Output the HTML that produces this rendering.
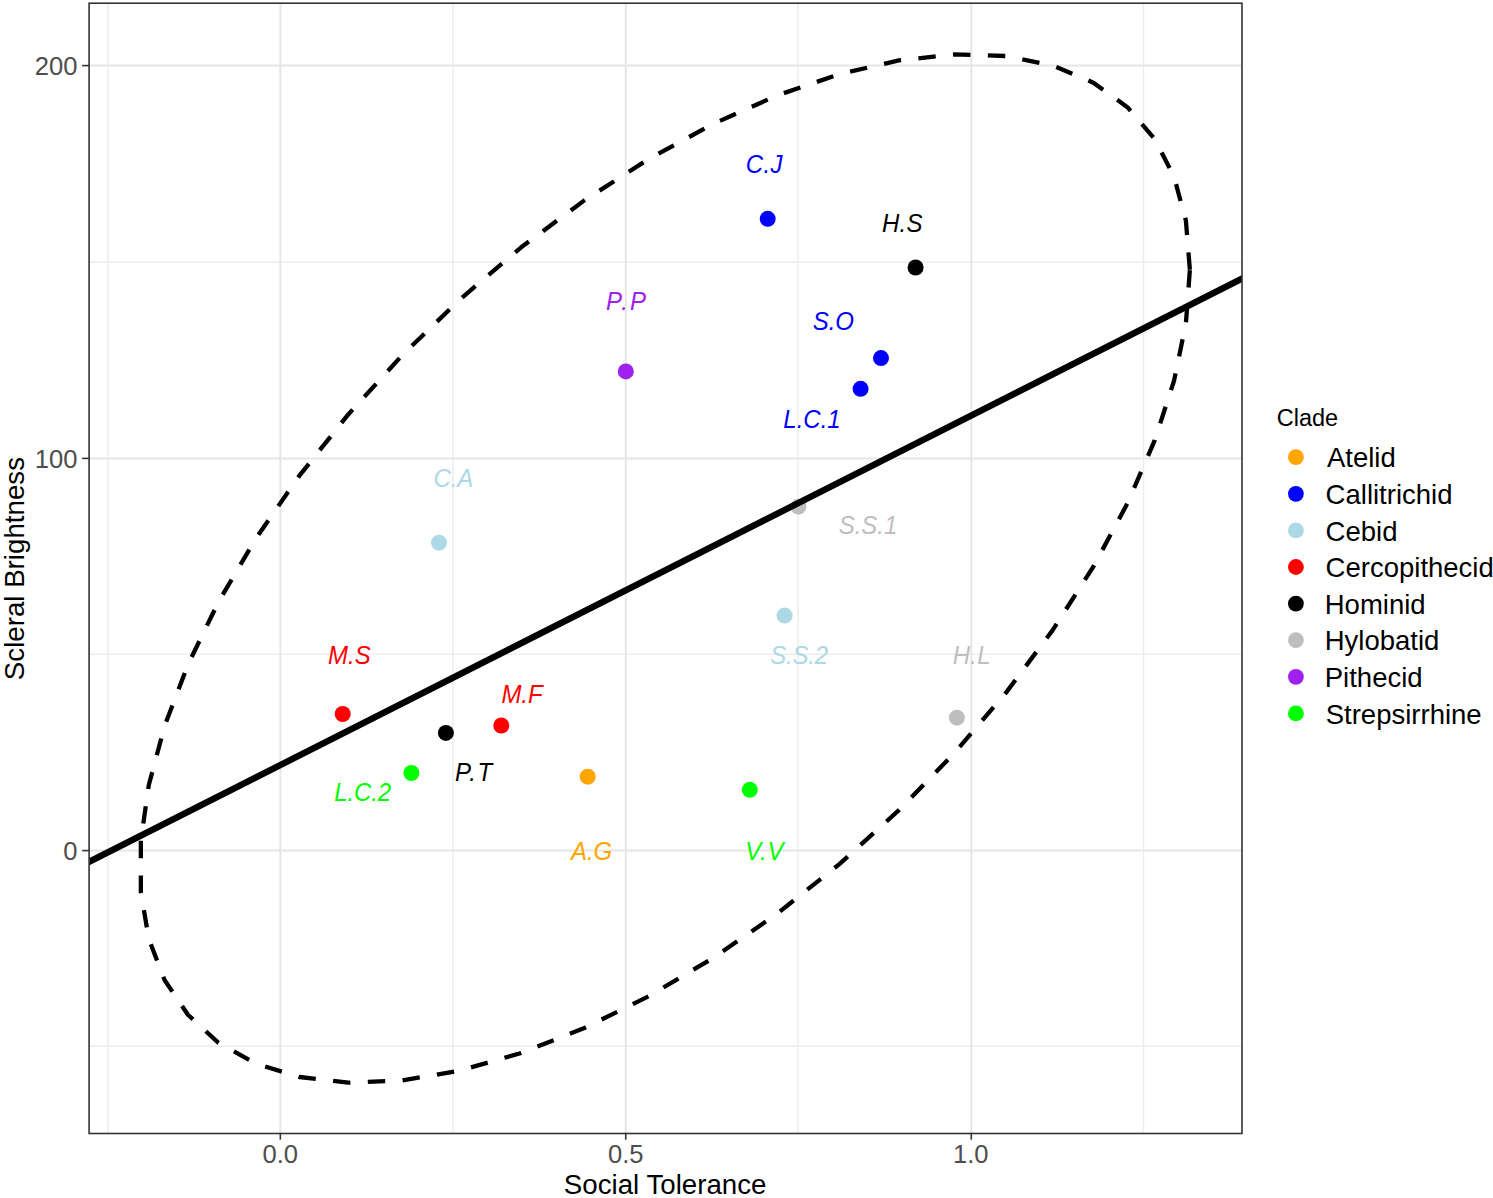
<!DOCTYPE html>
<html><head><meta charset="utf-8"><style>
html,body{margin:0;padding:0;background:#fff;}
body{width:1493px;height:1198px;overflow:hidden;}
svg{display:block;}
text{font-family:"Liberation Sans",sans-serif;}

</style></head><body>
<svg width="1493" height="1198" viewBox="0 0 1493 1198">
<rect x="0" y="0" width="1493" height="1198" fill="#fff"/>
<defs><clipPath id="pc"><rect x="89.1" y="3.2" width="1152.90" height="1130.30"/></clipPath></defs>
<line x1="107.95" y1="3.2" x2="107.95" y2="1133.5" stroke="#EDEDED" stroke-width="1.5"/>
<line x1="453.00" y1="3.2" x2="453.00" y2="1133.5" stroke="#EDEDED" stroke-width="1.5"/>
<line x1="798.00" y1="3.2" x2="798.00" y2="1133.5" stroke="#EDEDED" stroke-width="1.5"/>
<line x1="1143.50" y1="3.2" x2="1143.50" y2="1133.5" stroke="#EDEDED" stroke-width="1.5"/>
<line x1="89.1" y1="262.00" x2="1242.0" y2="262.00" stroke="#EDEDED" stroke-width="1.5"/>
<line x1="89.1" y1="654.30" x2="1242.0" y2="654.30" stroke="#EDEDED" stroke-width="1.5"/>
<line x1="89.1" y1="1046.00" x2="1242.0" y2="1046.00" stroke="#EDEDED" stroke-width="1.5"/>
<line x1="280.35" y1="3.2" x2="280.35" y2="1133.5" stroke="#E6E6E6" stroke-width="2.0"/>
<line x1="625.75" y1="3.2" x2="625.75" y2="1133.5" stroke="#E6E6E6" stroke-width="2.0"/>
<line x1="971.27" y1="3.2" x2="971.27" y2="1133.5" stroke="#E6E6E6" stroke-width="2.0"/>
<line x1="89.1" y1="850.60" x2="1242.0" y2="850.60" stroke="#E6E6E6" stroke-width="2.0"/>
<line x1="89.1" y1="458.40" x2="1242.0" y2="458.40" stroke="#E6E6E6" stroke-width="2.0"/>
<line x1="89.1" y1="65.60" x2="1242.0" y2="65.60" stroke="#E6E6E6" stroke-width="2.0"/>
<g clip-path="url(#pc)"><circle cx="767.7" cy="218.8" r="8.0" fill="#0000FF"/><circle cx="915.6" cy="267.5" r="8.0" fill="#000000"/><circle cx="625.8" cy="371.4" r="8.0" fill="#A020F0"/><circle cx="881" cy="358.1" r="8.0" fill="#0000FF"/><circle cx="860.6" cy="388.8" r="8.0" fill="#0000FF"/><circle cx="439" cy="542.7" r="8.0" fill="#ADD8E6"/><circle cx="798.4" cy="506.7" r="8.0" fill="#BEBEBE"/><circle cx="784.6" cy="615.6" r="8.0" fill="#ADD8E6"/><circle cx="956.9" cy="717.7" r="8.0" fill="#BEBEBE"/><circle cx="342.7" cy="714" r="8.0" fill="#FF0000"/><circle cx="501.3" cy="725.5" r="8.0" fill="#FF0000"/><circle cx="445.9" cy="732.9" r="8.0" fill="#000000"/><circle cx="411.4" cy="773" r="8.0" fill="#00FF00"/><circle cx="587.7" cy="776.7" r="8.0" fill="#FFA500"/><circle cx="749.8" cy="789.8" r="8.0" fill="#00FF00"/><path d="M1189.87,269.76 L1185.89,220.55 L1174.01,176.63 L1154.41,138.63 L1127.40,107.16 L1093.37,82.68 L1052.85,65.56 L1006.44,56.06 L954.86,54.33 L898.88,60.39 L839.35,74.16 L777.18,95.41 L713.31,123.84 L648.70,159.00 L584.33,200.38 L521.19,247.33 L460.23,299.15 L402.36,355.05 L348.48,414.18 L299.39,475.66 L255.85,538.54 L218.50,601.87 L187.92,664.69 L164.57,726.06 L148.80,785.04 L140.86,840.73 L140.86,892.29 L148.80,938.95 L164.57,979.99 L187.92,1014.79 L218.50,1042.82 L255.85,1063.66 L299.39,1076.99 L348.48,1082.62 L402.36,1080.45 L460.23,1070.51 L521.19,1052.97 L584.33,1028.08 L648.70,996.23 L713.31,957.88 L777.18,913.64 L839.35,864.16 L898.88,810.20 L954.86,752.57 L1006.44,692.15 L1052.85,629.86 L1093.37,566.63 L1127.40,503.43 L1154.41,441.22 L1174.01,380.93 L1185.89,323.49 L1189.87,269.76" fill="none" stroke="#000" stroke-width="4.3" stroke-dasharray="17.42 17.42" stroke-linecap="butt" stroke-linejoin="round"/><line x1="54.55" y1="879.27" x2="1276.56" y2="261.13" stroke="#000" stroke-width="6.4"/><text class="lab" transform="translate(745.66,173.14) scale(1,1.04)" font-size="24.0" fill="#0000FF" style="font-style:italic;letter-spacing:0.43px">C.J</text><text class="lab" transform="translate(881.98,232.14) scale(1,1.04)" font-size="24.0" fill="#000000" style="font-style:italic;letter-spacing:0.24px">H.S</text><text class="lab" transform="translate(606.08,310.19) scale(1,1.04)" font-size="24.0" fill="#A020F0" style="font-style:italic;letter-spacing:2.20px">P.P</text><text class="lab" transform="translate(812.83,330.34) scale(1,1.04)" font-size="24.0" fill="#0000FF" style="font-style:italic;letter-spacing:-0.14px">S.O</text><text class="lab" transform="translate(783.28,428.19) scale(1,1.04)" font-size="24.0" fill="#0000FF" style="font-style:italic;letter-spacing:0.02px">L.C.1</text><text class="lab" transform="translate(433.56,487.19) scale(1,1.04)" font-size="24.0" fill="#ADD8E6" style="font-style:italic;letter-spacing:-0.10px">C.A</text><text class="lab" transform="translate(838.63,534.44) scale(1,1.04)" font-size="24.0" fill="#BEBEBE" style="font-style:italic;letter-spacing:-0.00px">S.S.1</text><text class="lab" transform="translate(770.23,663.69) scale(1,1.04)" font-size="24.0" fill="#ADD8E6" style="font-style:italic;letter-spacing:-0.22px">S.S.2</text><text class="lab" transform="translate(952.78,663.69) scale(1,1.04)" font-size="24.0" fill="#BEBEBE" style="font-style:italic;letter-spacing:0.23px">H.L</text><text class="lab" transform="translate(328.08,663.69) scale(1,1.04)" font-size="24.0" fill="#FF0000" style="font-style:italic;letter-spacing:-0.03px">M.S</text><text class="lab" transform="translate(501.38,702.74) scale(1,1.04)" font-size="24.0" fill="#FF0000" style="font-style:italic;letter-spacing:-0.06px">M.F</text><text class="lab" transform="translate(454.88,780.94) scale(1,1.04)" font-size="24.0" fill="#000000" style="font-style:italic;letter-spacing:1.53px">P.T</text><text class="lab" transform="translate(334.28,800.99) scale(1,1.04)" font-size="24.0" fill="#00FF00" style="font-style:italic;letter-spacing:-0.10px">L.C.2</text><text class="lab" transform="translate(570.95,859.64) scale(1,1.04)" font-size="24.0" fill="#FFA500" style="font-style:italic;letter-spacing:-0.06px">A.G</text><text class="lab" transform="translate(745.24,859.64) scale(1,1.04)" font-size="24.0" fill="#00FF00" style="font-style:italic;letter-spacing:0.66px">V.V</text></g>
<rect x="89.1" y="3.2" width="1152.90" height="1130.30" fill="none" stroke="#333333" stroke-width="1.6"/>
<line x1="82.1" y1="850.60" x2="89.1" y2="850.60" stroke="#333333" stroke-width="1.6"/>
<text class="tk" transform="translate(63.34,859.77) scale(1,1.03)" font-size="25.6" fill="#4D4D4D">0</text>
<line x1="82.1" y1="458.40" x2="89.1" y2="458.40" stroke="#333333" stroke-width="1.6"/>
<text class="tk" transform="translate(34.87,467.97) scale(1,1.03)" font-size="25.6" fill="#4D4D4D">100</text>
<line x1="82.1" y1="65.60" x2="89.1" y2="65.60" stroke="#333333" stroke-width="1.6"/>
<text class="tk" transform="translate(34.87,75.07) scale(1,1.03)" font-size="25.6" fill="#4D4D4D">200</text>
<line x1="280.35" y1="1133.5" x2="280.35" y2="1139.7" stroke="#333333" stroke-width="1.6"/>
<text class="tk" transform="translate(262.53,1163.27) scale(1,1.03)" font-size="25.6" fill="#4D4D4D">0.0</text>
<line x1="625.75" y1="1133.5" x2="625.75" y2="1139.7" stroke="#333333" stroke-width="1.6"/>
<text class="tk" transform="translate(607.98,1163.27) scale(1,1.03)" font-size="25.6" fill="#4D4D4D">0.5</text>
<line x1="971.27" y1="1133.5" x2="971.27" y2="1139.7" stroke="#333333" stroke-width="1.6"/>
<text class="tk" transform="translate(952.99,1163.27) scale(1,1.03)" font-size="25.6" fill="#4D4D4D">1.0</text>
<text class="tt" transform="translate(563.79,1194.24)" font-size="27.7" fill="#000">Social Tolerance</text>
<text class="tt" transform="translate(24.2,568.40) rotate(-90)" x="-111.77" y="0" font-size="27.7" fill="#000">Scleral Brightness</text>
<text class="tt" transform="translate(1276.79,425.69)" font-size="23.5" fill="#000">Clade</text>
<circle cx="1295.9" cy="457.20" r="7.9" fill="#FFA500"/>
<text class="tt" transform="translate(1326.94,467.30)" font-size="27.5" fill="#000">Atelid</text>
<circle cx="1295.9" cy="493.80" r="7.9" fill="#0000FF"/>
<text class="tt" transform="translate(1325.62,503.90)" font-size="27.5" fill="#000">Callitrichid</text>
<circle cx="1295.9" cy="530.40" r="7.9" fill="#ADD8E6"/>
<text class="tt" transform="translate(1325.62,540.50)" font-size="27.5" fill="#000">Cebid</text>
<circle cx="1295.9" cy="567.00" r="7.9" fill="#FF0000"/>
<text class="tt" transform="translate(1325.62,577.10)" font-size="27.5" fill="#000">Cercopithecid</text>
<circle cx="1295.9" cy="603.60" r="7.9" fill="#000000"/>
<text class="tt" transform="translate(1324.74,613.70)" font-size="27.5" fill="#000">Hominid</text>
<circle cx="1295.9" cy="640.20" r="7.9" fill="#BEBEBE"/>
<text class="tt" transform="translate(1324.74,650.30)" font-size="27.5" fill="#000">Hylobatid</text>
<circle cx="1295.9" cy="676.80" r="7.9" fill="#A020F0"/>
<text class="tt" transform="translate(1324.74,686.90)" font-size="27.5" fill="#000">Pithecid</text>
<circle cx="1295.9" cy="713.40" r="7.9" fill="#00FF00"/>
<text class="tt" transform="translate(1325.73,723.50)" font-size="27.5" fill="#000">Strepsirrhine</text>
</svg>
</body></html>
